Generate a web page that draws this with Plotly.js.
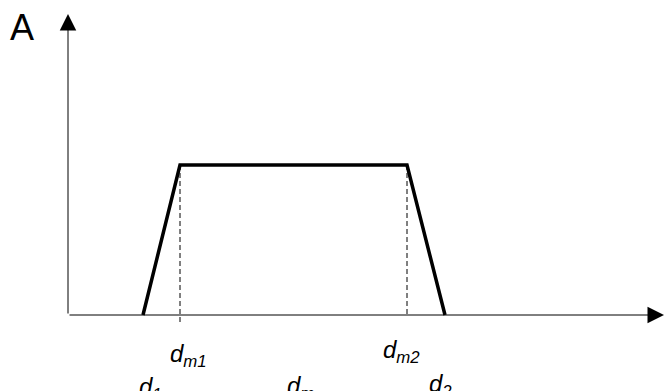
<!DOCTYPE html>
<html>
<head>
<meta charset="utf-8">
<script src="https://cdn.plot.ly/plotly-3.0.1.min.js"></script>
<style>html,body{margin:0;padding:0;background:#fff;}#chart{width:665px;height:391px;}</style>
</head>
<body>
<div id="chart"></div>
<script>
// Trapezoid profile (distance vs amplitude)
const profileX = [75, 112, 339, 377];      // d1, dm1, dm2, d2
const profileY = [0, 150, 150, 0];         // amplitude A
const dropX = [112, 339];                  // dm1, dm2 drop lines
const dropTop = [150, 150];
const dropBottom = [-8, 0];
const labelText = ['<i>d</i><sub><i>m1</i></sub>', '<i>d</i><sub><i>m2</i></sub>',
                   '<i>d</i><sub><i>1</i></sub>', '<i>d</i><sub><i>m</i></sub>', '<i>d</i><sub><i>2</i></sub>'];
const labelX = [112, 339, 75, 225.5, 377];
const labelY = [-40, -36, -73, -72, -70];
const axisLabel = 'A';

const labelShift = [8, -6, 7, 7, -5];
const FONT = '"Liberation Sans", Arial, sans-serif';

const traces = [];
for (let i = 0; i < dropX.length; i++) {
  traces.push({
    x: [dropX[i], dropX[i]], y: [dropTop[i], dropBottom[i]],
    mode: 'lines', line: {color: '#000', width: 1, dash: '5px,3px'},
    hoverinfo: 'skip', showlegend: false
  });
}
traces.push({
  x: profileX, y: profileY, mode: 'lines',
  line: {color: '#000', width: 3.5}, hoverinfo: 'skip', showlegend: false
});

const annotations = [
  {x: 596, y: 0, ax: 0, ay: 0, xref: 'x', yref: 'y', axref: 'x', ayref: 'y',
   showarrow: true, arrowhead: 2, arrowsize: 3.3, arrowwidth: 1, arrowcolor: '#000',
   standoff: 0, text: ''},
  {x: 0, y: 301, ax: 0, ay: 0, xref: 'x', yref: 'y', axref: 'x', ayref: 'y',
   showarrow: true, arrowhead: 2, arrowsize: 3.3, arrowwidth: 1, arrowcolor: '#000',
   standoff: 0, text: ''},
  {x: -46, y: 288, xref: 'x', yref: 'y', showarrow: false, text: axisLabel,
   font: {family: FONT, size: 36, color: '#000'},
   xanchor: 'center', yanchor: 'middle'}
];
for (let i = 0; i < labelText.length; i++) {
  annotations.push({
    x: labelX[i], y: labelY[i], xref: 'x', yref: 'y', showarrow: false,
    text: labelText[i], xshift: labelShift[i],
    font: {family: FONT, size: 24, color: '#000'},
    xanchor: 'center', yanchor: 'middle'
  });
}

const layout = {
  width: 665, height: 391,
  margin: {l: 0, r: 0, t: 0, b: 0},
  paper_bgcolor: '#fff', plot_bgcolor: '#fff',
  font: {family: FONT},
  xaxis: {range: [-68, 597], visible: false, fixedrange: true},
  yaxis: {range: [-76, 315], visible: false, fixedrange: true},
  showlegend: false,
  annotations: annotations
};
Plotly.newPlot('chart', traces, layout, {displayModeBar: false, staticPlot: true});
</script>
</body>
</html>
